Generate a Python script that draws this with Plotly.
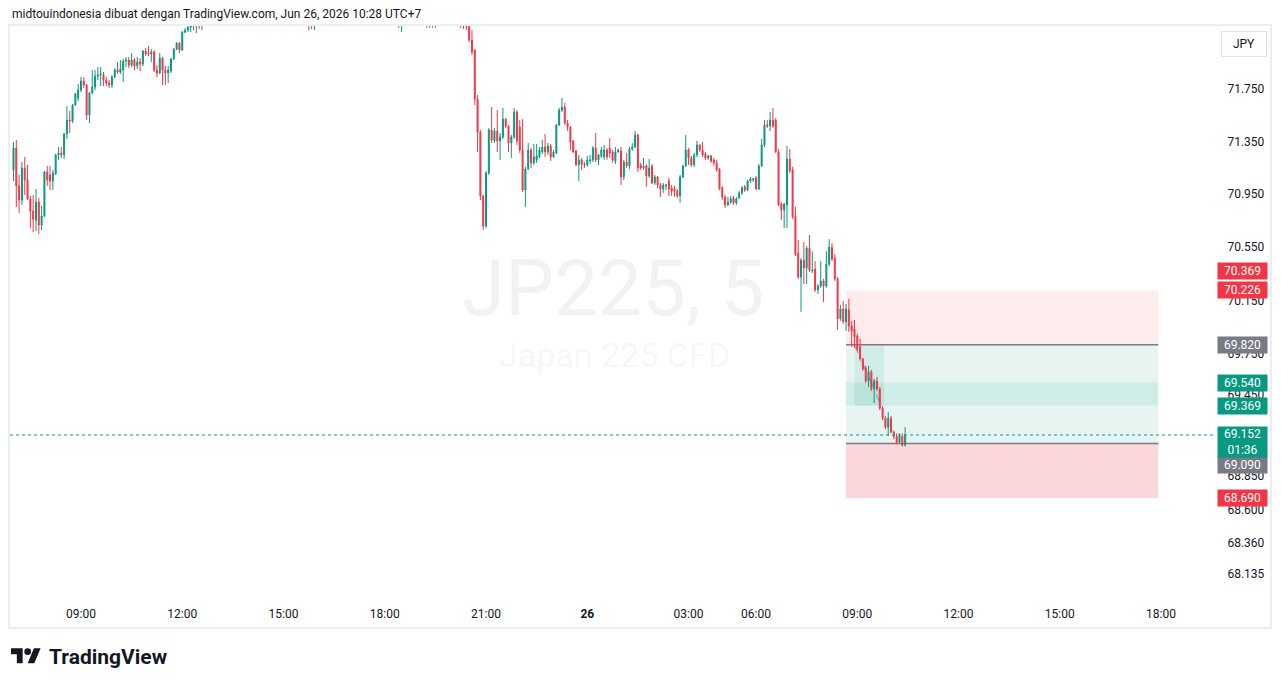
import math
import base64
import pandas as pd
import plotly.graph_objects as go

# ---------------- data (JP225 CFD, 5-minute bars) ----------------
open_ = [
    71.134, 71.301, 71.013, 70.906, 71.149, 71.058, 70.914, 70.823, 70.754, 70.891,
    70.717, 70.785, 71.119, 71.096, 71.050, 71.103, 71.248, 71.263, 71.248, 71.407,
    71.513, 71.505, 71.628, 71.681, 71.742, 71.811, 71.781, 71.551, 71.719, 71.765,
    71.849, 71.857, 71.857, 71.819, 71.796, 71.781, 71.842, 71.895, 71.880, 71.895,
    71.964, 71.972, 71.934, 71.972, 71.926, 71.957, 71.941, 72.041, 72.025, 72.018,
    72.033, 71.895, 71.872, 71.987, 71.895, 71.872, 71.888, 71.980, 72.056, 72.102,
    72.048, 72.186, 72.201, 72.224, 72.27, 72.25, 72.28, 72.26, 72.30, 72.34,
    72.38, 72.36, 72.41, 72.45, 72.43, 72.48, 72.46, 72.50, 72.47, 72.52,
    72.49, 72.46, 72.50, 72.53, 72.51, 72.48, 72.44, 72.47, 72.42, 72.40,
    72.44, 72.41, 72.38, 72.35, 72.37, 72.33, 72.36, 72.39, 72.35, 72.32,
    72.34, 72.30, 72.31, 72.28, 72.30, 72.27, 72.25, 72.26, 72.29, 72.32,
    72.36, 72.34, 72.38, 72.42, 72.40, 72.44, 72.47, 72.45, 72.49, 72.46,
    72.43, 72.45, 72.41, 72.44, 72.40, 72.37, 72.39, 72.35, 72.38, 72.34,
    72.31, 72.33, 72.30, 72.32, 72.29, 72.31, 72.28, 72.27, 72.26, 72.28,
    72.31, 72.34, 72.32, 72.35, 72.33, 72.30, 72.28, 72.27, 72.26, 72.28,
    72.27, 72.30, 72.33, 72.36, 72.34, 72.37, 72.35, 72.32, 72.30, 72.28,
    72.27, 72.26, 72.23, 72.125, 72.048, 71.673, 71.422, 70.937, 70.709, 71.111,
    71.437, 71.354, 71.429, 71.354, 71.384, 71.520, 71.467, 71.338, 71.384, 71.574,
    71.460, 71.285, 70.982, 71.141, 71.285, 71.187, 71.210, 71.232, 71.270, 71.308,
    71.270, 71.316, 71.232, 71.263, 71.475, 71.589, 71.612, 71.490, 71.460, 71.354,
    71.278, 71.172, 71.210, 71.179, 71.172, 71.202, 71.210, 71.301, 71.210, 71.240,
    71.232, 71.285, 71.301, 71.270, 71.202, 71.270, 71.278, 71.081, 71.194, 71.164,
    71.293, 71.308, 71.399, 71.172, 71.149, 71.164, 71.088, 71.164, 71.035, 71.081,
    71.020, 70.990, 71.013, 71.050, 70.997, 70.990, 70.975, 70.937, 71.081, 71.164,
    71.285, 71.225, 71.172, 71.248, 71.323, 71.285, 71.255, 71.225, 71.240, 71.210,
    71.187, 71.141, 70.997, 70.929, 70.869, 70.891, 70.922, 70.884, 70.922, 70.960,
    71.005, 70.982, 71.050, 71.058, 71.073, 70.990, 71.164, 71.323, 71.475, 71.467,
    71.513, 71.513, 71.270, 70.876, 70.831, 70.869, 71.217, 71.134, 70.785, 70.505,
    70.327, 70.453, 70.394, 70.543, 70.371, 70.386, 70.230, 70.259, 70.297, 70.259,
    70.423, 70.550, 70.468, 70.312, 70.014, 70.088, 69.991, 70.081, 69.961, 69.939,
    69.887, 69.805, 69.716, 69.649, 69.552, 69.619, 69.492, 69.552, 69.492, 69.350,
    69.276, 69.209, 69.276, 69.172, 69.142, 69.098, 69.142, 69.076,
]
high = [
    71.346, 71.361, 71.096, 71.194, 71.232, 71.172, 70.937, 70.944, 70.990, 70.922,
    70.861, 71.126, 71.164, 71.164, 71.134, 71.255, 71.308, 71.308, 71.414, 71.620,
    71.582, 71.635, 71.719, 71.788, 71.842, 71.842, 71.788, 71.727, 71.895, 71.895,
    71.918, 71.918, 71.880, 71.842, 71.819, 71.857, 71.911, 71.957, 71.972, 71.980,
    71.995, 71.995, 72.025, 71.987, 71.995, 71.987, 72.048, 72.064, 72.079, 72.056,
    72.048, 71.934, 72.025, 71.995, 71.926, 71.926, 71.987, 72.064, 72.110, 72.110,
    72.194, 72.217, 72.232, 72.29, 72.30, 72.31, 72.31, 72.33, 72.37, 72.41,
    72.40, 72.44, 72.48, 72.47, 72.51, 72.50, 72.54, 72.52, 72.56, 72.54,
    72.51, 72.53, 72.57, 72.55, 72.53, 72.50, 72.50, 72.49, 72.44, 72.47,
    72.46, 72.43, 72.40, 72.40, 72.39, 72.39, 72.42, 72.41, 72.37, 72.37,
    72.36, 72.34, 72.33, 72.33, 72.32, 72.29, 72.29, 72.32, 72.35, 72.39,
    72.38, 72.41, 72.45, 72.44, 72.47, 72.50, 72.49, 72.52, 72.51, 72.48,
    72.48, 72.47, 72.47, 72.46, 72.42, 72.42, 72.41, 72.41, 72.40, 72.36,
    72.36, 72.35, 72.35, 72.34, 72.34, 72.33, 72.30, 72.29, 72.31, 72.34,
    72.37, 72.36, 72.38, 72.37, 72.35, 72.32, 72.30, 72.29, 72.31, 72.30,
    72.33, 72.36, 72.39, 72.38, 72.40, 72.39, 72.37, 72.34, 72.32, 72.30,
    72.29, 72.28, 72.262, 72.201, 72.055, 71.704, 71.437, 70.944, 71.126, 71.452,
    71.612, 71.452, 71.589, 71.414, 71.605, 71.528, 71.475, 71.399, 71.605, 71.589,
    71.513, 71.520, 71.157, 71.338, 71.301, 71.331, 71.331, 71.308, 71.361, 71.407,
    71.338, 71.331, 71.285, 71.482, 71.605, 71.681, 71.643, 71.513, 71.467, 71.361,
    71.285, 71.248, 71.225, 71.194, 71.240, 71.248, 71.316, 71.414, 71.255, 71.308,
    71.323, 71.301, 71.376, 71.285, 71.308, 71.293, 71.308, 71.210, 71.263, 71.308,
    71.338, 71.429, 71.407, 71.187, 71.225, 71.179, 71.217, 71.179, 71.096, 71.088,
    71.035, 71.035, 71.028, 71.073, 71.020, 71.013, 70.990, 71.096, 71.172, 71.399,
    71.301, 71.240, 71.263, 71.354, 71.331, 71.346, 71.270, 71.248, 71.248, 71.225,
    71.210, 71.149, 71.013, 70.944, 70.929, 70.937, 70.937, 70.929, 70.975, 71.013,
    71.020, 71.058, 71.081, 71.073, 71.088, 71.179, 71.369, 71.513, 71.513, 71.574,
    71.605, 71.528, 71.293, 70.891, 70.884, 71.316, 71.293, 71.157, 70.853, 70.603,
    70.468, 70.588, 70.558, 70.641, 70.520, 70.446, 70.274, 70.446, 70.312, 70.520,
    70.611, 70.581, 70.498, 70.327, 70.118, 70.148, 70.125, 70.163, 69.999, 70.006,
    69.902, 69.864, 69.723, 69.664, 69.664, 69.634, 69.567, 69.582, 69.507, 69.365,
    69.291, 69.321, 69.291, 69.186, 69.164, 69.164, 69.164, 69.209,
]
low = [
    71.050, 70.853, 70.808, 70.869, 70.944, 70.906, 70.694, 70.664, 70.671, 70.649,
    70.679, 70.778, 71.013, 70.982, 70.982, 71.096, 71.210, 71.225, 71.217, 71.369,
    71.414, 71.490, 71.620, 71.658, 71.727, 71.758, 71.513, 71.490, 71.712, 71.742,
    71.819, 71.773, 71.773, 71.773, 71.758, 71.758, 71.834, 71.865, 71.865, 71.804,
    71.918, 71.911, 71.918, 71.895, 71.903, 71.888, 71.926, 72.002, 72.002, 71.957,
    71.880, 71.842, 71.865, 71.781, 71.781, 71.796, 71.872, 71.972, 72.048, 72.025,
    72.041, 72.178, 72.186, 72.186, 72.20, 72.178, 72.21, 72.203, 72.27, 72.31,
    72.33, 72.34, 72.39, 72.40, 72.41, 72.43, 72.44, 72.44, 72.45, 72.46,
    72.43, 72.44, 72.48, 72.48, 72.45, 72.41, 72.42, 72.39, 72.37, 72.38,
    72.38, 72.35, 72.32, 72.33, 72.30, 72.31, 72.34, 72.32, 72.29, 72.30,
    72.27, 72.28, 72.25, 72.26, 72.24, 72.20, 72.21, 72.203, 72.27, 72.30,
    72.31, 72.32, 72.36, 72.37, 72.38, 72.42, 72.42, 72.43, 72.43, 72.40,
    72.41, 72.38, 72.39, 72.37, 72.34, 72.35, 72.32, 72.33, 72.31, 72.28,
    72.29, 72.27, 72.28, 72.26, 72.27, 72.25, 72.24, 72.22, 72.186, 72.26,
    72.29, 72.29, 72.30, 72.30, 72.27, 72.25, 72.24, 72.22, 72.22, 72.22,
    72.22, 72.28, 72.31, 72.31, 72.32, 72.32, 72.29, 72.27, 72.25, 72.22,
    72.21, 72.203, 72.110, 72.010, 71.628, 71.270, 70.906, 70.679, 70.694, 71.096,
    71.338, 71.338, 71.270, 71.210, 71.369, 71.452, 71.270, 71.225, 71.369, 71.323,
    71.263, 70.967, 70.853, 71.134, 71.149, 71.172, 71.187, 71.225, 71.255, 71.232,
    71.248, 71.202, 71.225, 71.255, 71.467, 71.574, 71.475, 71.429, 71.285, 71.263,
    71.164, 71.050, 71.134, 71.149, 71.157, 71.179, 71.194, 71.194, 71.172, 71.225,
    71.210, 71.210, 71.225, 71.187, 71.179, 71.263, 71.020, 71.058, 71.149, 71.141,
    71.278, 71.301, 71.119, 71.134, 71.134, 71.005, 71.073, 71.028, 71.020, 70.997,
    70.929, 70.960, 70.982, 70.937, 70.937, 70.929, 70.922, 70.884, 71.073, 71.157,
    71.172, 71.157, 71.157, 71.232, 71.270, 71.232, 71.210, 71.210, 71.187, 71.164,
    71.119, 70.982, 70.906, 70.846, 70.861, 70.876, 70.869, 70.869, 70.914, 70.944,
    70.967, 70.975, 71.035, 71.043, 70.982, 70.982, 71.157, 71.308, 71.452, 71.429,
    71.452, 71.263, 70.861, 70.754, 70.694, 70.694, 71.111, 70.762, 70.483, 70.312,
    70.066, 70.274, 70.274, 70.364, 70.356, 70.215, 70.200, 70.245, 70.140, 70.245,
    70.408, 70.446, 70.297, 69.932, 69.999, 69.976, 69.924, 69.917, 69.805, 69.798,
    69.775, 69.701, 69.626, 69.537, 69.507, 69.477, 69.388, 69.477, 69.336, 69.261,
    69.194, 69.147, 69.164, 69.120, 69.083, 69.090, 69.068, 69.068,
]
close = [
    71.301, 71.013, 70.906, 71.149, 71.058, 70.914, 70.823, 70.762, 70.891, 70.717,
    70.785, 71.119, 71.058, 71.050, 71.111, 71.248, 71.263, 71.248, 71.407, 71.513,
    71.505, 71.628, 71.712, 71.742, 71.811, 71.781, 71.551, 71.719, 71.765, 71.849,
    71.857, 71.865, 71.819, 71.796, 71.781, 71.842, 71.895, 71.880, 71.903, 71.964,
    71.972, 71.934, 71.972, 71.926, 71.957, 71.941, 72.041, 72.018, 72.018, 72.033,
    71.895, 71.872, 71.987, 71.895, 71.872, 71.895, 71.980, 72.056, 72.102, 72.048,
    72.186, 72.201, 72.224, 72.27, 72.25, 72.28, 72.26, 72.30, 72.34, 72.38,
    72.36, 72.41, 72.45, 72.43, 72.48, 72.46, 72.50, 72.47, 72.52, 72.49,
    72.46, 72.50, 72.53, 72.51, 72.48, 72.44, 72.47, 72.42, 72.40, 72.44,
    72.41, 72.38, 72.35, 72.37, 72.33, 72.36, 72.39, 72.35, 72.32, 72.34,
    72.30, 72.31, 72.28, 72.30, 72.27, 72.25, 72.26, 72.29, 72.32, 72.36,
    72.34, 72.38, 72.42, 72.40, 72.44, 72.47, 72.45, 72.49, 72.46, 72.43,
    72.45, 72.41, 72.44, 72.40, 72.37, 72.39, 72.35, 72.38, 72.34, 72.31,
    72.33, 72.30, 72.32, 72.29, 72.31, 72.28, 72.27, 72.26, 72.28, 72.31,
    72.34, 72.32, 72.35, 72.33, 72.30, 72.28, 72.27, 72.26, 72.28, 72.27,
    72.30, 72.33, 72.36, 72.34, 72.37, 72.35, 72.32, 72.30, 72.28, 72.27,
    72.26, 72.23, 72.125, 72.033, 71.673, 71.422, 70.937, 70.709, 71.111, 71.437,
    71.361, 71.429, 71.354, 71.384, 71.520, 71.467, 71.338, 71.384, 71.574, 71.354,
    71.285, 70.982, 71.141, 71.285, 71.187, 71.232, 71.240, 71.285, 71.308, 71.270,
    71.316, 71.232, 71.270, 71.475, 71.589, 71.612, 71.490, 71.460, 71.346, 71.270,
    71.172, 71.210, 71.179, 71.172, 71.210, 71.210, 71.301, 71.210, 71.248, 71.285,
    71.285, 71.232, 71.263, 71.210, 71.270, 71.285, 71.081, 71.194, 71.164, 71.293,
    71.308, 71.399, 71.149, 71.149, 71.164, 71.088, 71.149, 71.035, 71.081, 71.020,
    70.990, 71.020, 71.020, 70.990, 70.975, 70.975, 70.937, 71.081, 71.164, 71.285,
    71.225, 71.172, 71.248, 71.323, 71.285, 71.248, 71.225, 71.240, 71.202, 71.187,
    71.134, 70.990, 70.929, 70.869, 70.891, 70.914, 70.884, 70.914, 70.960, 70.997,
    70.982, 71.050, 71.066, 71.066, 70.990, 71.164, 71.323, 71.475, 71.467, 71.513,
    71.467, 71.270, 70.869, 70.831, 70.876, 71.217, 71.126, 70.778, 70.498, 70.327,
    70.453, 70.394, 70.543, 70.379, 70.379, 70.230, 70.259, 70.297, 70.259, 70.423,
    70.550, 70.461, 70.312, 70.014, 70.088, 69.991, 70.088, 69.961, 69.924, 69.880,
    69.790, 69.716, 69.641, 69.552, 69.619, 69.492, 69.552, 69.492, 69.350, 69.276,
    69.209, 69.276, 69.172, 69.142, 69.098, 69.142, 69.076, 69.152,
]

session_start = "2026-06-25 07:00"
session_end = "2026-06-26 19:55"
break_start, break_end = "2026-06-26 04:00", "2026-06-26 05:00"

y_ticks = [71.75, 71.35, 70.95, 70.55, 70.15, 69.75, 69.45, 68.85, 68.60, 68.36, 68.135]

label_prices = [70.369, 70.226, 69.820, 69.540, 69.369, 69.090, 68.690]
label_colors = ["#f23645", "#f23645", "#787b86", "#089981", "#089981", "#787b86", "#f23645"]
label_shift = [0, 0, 0, 0, 0, -22, 0]
last_price = 69.152
countdown = "01:36"

stop_level = 70.226
entry_level = 69.820
band_top, band_bottom = 69.540, 69.369
target_level = 69.090
lower_level = 68.690
pos_start, pos_end = "2026-06-26 08:40", "2026-06-26 17:55"
zone_start, zone_end = "2026-06-26 08:55", "2026-06-26 09:50"

UP, DOWN, GREY, TXT = "#089981", "#f23645", "#787b86", "#131722"

# ---------------- time index (bars, market break removed) ----------------
times = pd.date_range(session_start, session_end, freq="5min")
times = times[(times < pd.Timestamp(break_start)) | (times >= pd.Timestamp(break_end))]
bar_of = {ts: i for i, ts in enumerate(times)}
x = list(range(len(close)))

tick_idx, tick_txt = [], []
for i, ts in enumerate(times):
    if ts.minute == 0 and ts.hour % 3 == 0 and ts >= pd.Timestamp("2026-06-25 09:00"):
        tick_idx.append(i)
        tick_txt.append("<b>26</b>" if ts.hour == 0 else ts.strftime("%H:%M"))

ps, pe = bar_of[pd.Timestamp(pos_start)], bar_of[pd.Timestamp(pos_end)]
zs, ze = bar_of[pd.Timestamp(zone_start)], bar_of[pd.Timestamp(zone_end)]

# plot-area geometry helpers (pixel -> paper)
def xp(px):
    return (px - 10) / 1200.0

def yp(py):
    return (598 - py) / 572.0

fig = go.Figure()
fig.add_trace(go.Candlestick(
    x=x, open=open_, high=high, low=low, close=close,
    increasing=dict(line=dict(color=UP, width=1), fillcolor=UP),
    decreasing=dict(line=dict(color=DOWN, width=1), fillcolor=DOWN),
    hoverinfo="skip", showlegend=False,
))

shapes = []
def rect(x0, x1, y0, y1, fill):
    shapes.append(dict(type="rect", xref="x", yref="y", x0=x0, x1=x1, y0=y0, y1=y1,
                       fillcolor=fill, line=dict(width=0), layer="below"))

rect(ps, pe, entry_level, stop_level, "rgba(242,54,69,0.10)")
rect(ps, pe, target_level, entry_level, "rgba(8,153,129,0.10)")
rect(ps, pe, band_bottom, band_top, "rgba(8,153,129,0.10)")
rect(ps, pe, lower_level, target_level, "rgba(242,54,69,0.20)")
rect(zs, ze - 0.5, band_bottom, entry_level, "rgba(8,153,129,0.10)")
for lv in (entry_level, target_level):
    shapes.append(dict(type="line", xref="x", yref="y", x0=ps, x1=pe, y0=lv, y1=lv,
                       line=dict(color=GREY, width=1.5), layer="below"))
shapes.append(dict(type="line", xref="x", yref="y", x0=zs, x1=ze - 1.5, y0=entry_level,
                   y1=band_bottom, line=dict(color="rgba(120,123,134,0.55)", width=1.5, dash="dash"),
                   layer="below"))
shapes.append(dict(type="line", xref="paper", yref="y", x0=0, x1=1.004, y0=last_price, y1=last_price,
                   line=dict(color=UP, width=1, dash="dot"), layer="above"))
# outer frame of the snapshot
shapes.append(dict(type="rect", xref="paper", yref="paper", x0=xp(9), x1=xp(1271), y0=yp(628), y1=yp(25),
                   line=dict(color="#eceef2", width=2), fillcolor="rgba(0,0,0,0)", layer="below"))

ann = []
ann.append(dict(text="midtouindonesia dibuat dengan TradingView.com, Jun 26, 2026 10:28 UTC+7",
                xref="paper", yref="paper", x=xp(10), y=yp(14), xanchor="left", yanchor="middle",
                showarrow=False, font=dict(size=12, color=TXT, family="Roboto")))
ann.append(dict(text="JP225, 5", xref="paper", yref="paper", x=xp(613), y=yp(288),
                xanchor="center", yanchor="middle", showarrow=False,
                font=dict(size=78, color="rgba(19,23,34,0.055)", family="Roboto")))
ann.append(dict(text="Japan 225 CFD", xref="paper", yref="paper", x=xp(614), y=yp(355),
                xanchor="center", yanchor="middle", showarrow=False,
                font=dict(size=34, color="rgba(19,23,34,0.055)", family="Roboto")))
ann.append(dict(text="<b>TradingView</b>", xref="paper", yref="paper", x=xp(47), y=yp(657),
                xanchor="left", yanchor="middle", showarrow=False,
                font=dict(size=21, color=TXT, family="Roboto")))
ann.append(dict(text="JPY", xref="paper", yref="paper", x=xp(1244), y=yp(44),
                xanchor="center", yanchor="middle", showarrow=False, width=42, height=22,
                bordercolor="#e0e3eb", borderwidth=1, borderpad=1, bgcolor="white",
                font=dict(size=12, color=TXT, family="Roboto")))
for p, c, s in zip(label_prices, label_colors, label_shift):
    ann.append(dict(text=f"{p:.3f}", xref="paper", yref="y", x=xp(1242.5), y=math.log10(p),
                    xanchor="center", yanchor="middle", yshift=s, showarrow=False,
                    width=47, height=14, borderpad=1, bgcolor=c,
                    font=dict(size=12, color="white", family="Roboto")))
ann.append(dict(text=f"{last_price:.3f}<br>{countdown}", xref="paper", yref="y", x=xp(1242.5),
                y=math.log10(last_price), xanchor="center", yanchor="middle", yshift=-7,
                showarrow=False, width=47, height=28, borderpad=1, bgcolor=UP,
                font=dict(size=12, color="white", family="Roboto")))

logo_svg = ('<svg xmlns="http://www.w3.org/2000/svg" width="36" height="28" viewBox="0 0 36 28">'
            '<path fill="#131722" d="M14 22H7V11H0V4h14v18zM28 22h-8l7.5-18h8L28 22z"/>'
            '<circle fill="#131722" cx="20" cy="8" r="4"/></svg>')
logo_src = "data:image/svg+xml;base64," + base64.b64encode(logo_svg.encode()).decode()

fig.update_layout(
    width=1281, height=688,
    margin=dict(l=10, r=71, t=26, b=90),
    paper_bgcolor="white", plot_bgcolor="white",
    font=dict(family="Roboto", size=12, color=TXT),
    showlegend=False, hovermode=False, boxgap=0.5,
    shapes=shapes, annotations=ann,
    images=[dict(source=logo_src, xref="paper", yref="paper", x=xp(11), y=yp(645),
                 sizex=30 / 1200.0, sizey=23.3 / 572.0, xanchor="left", yanchor="top",
                 sizing="stretch", layer="above")],
    xaxis=dict(range=[-1.24, 425.4], tickmode="array", tickvals=tick_idx, ticktext=tick_txt,
               showgrid=False, zeroline=False, showline=False, ticks="outside", ticklen=5,
               tickcolor="rgba(0,0,0,0)", tickfont=dict(size=12, color=TXT, family="Roboto"),
               rangeslider=dict(visible=False), fixedrange=True),
    yaxis=dict(type="log", side="right", range=[math.log10(67.961), math.log10(72.2335)],
               tickmode="array", tickvals=y_ticks, ticktext=[f"{v:.3f}" for v in y_ticks],
               showgrid=False, zeroline=False, showline=False, ticks="outside", ticklen=14,
               tickcolor="rgba(0,0,0,0)", tickfont=dict(size=12, color=TXT, family="Roboto"),
               fixedrange=True),
)

fig.write_html("out.html")
